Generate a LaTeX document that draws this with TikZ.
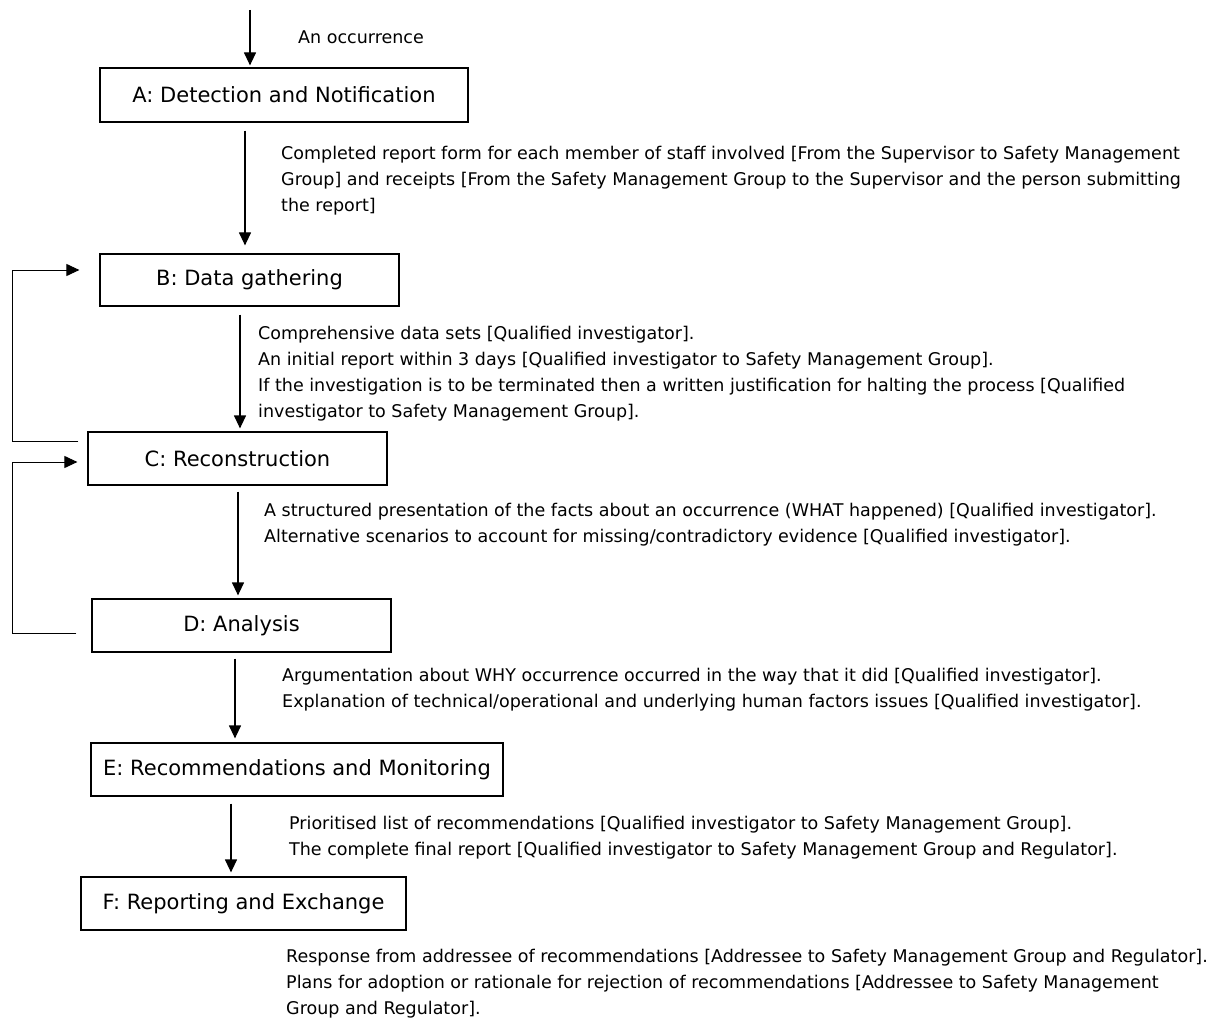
\documentclass[tikz,border=0pt]{standalone}
\usepackage{fontspec}
\setmainfont{DejaVu Sans}
\usetikzlibrary{arrows.meta,calc}
\begin{document}
\begin{tikzpicture}[x=1pt,y=-1pt,
  stage/.style={draw,line width=1.2pt,inner sep=0pt,font=\fontsize{21}{25}\selectfont},
  arr/.style={line width=1.2pt,-{Triangle[length=13pt,width=12pt]}},
  fb/.style={line width=1pt,-{Triangle[length=13pt,width=12pt]}},
  note/.style={anchor=north west,inner sep=0pt,align=left,font=\fontsize{17.5}{26}\selectfont}]
\useasboundingbox (0,0) rectangle (1218,1019);

% stages
\node[stage,minimum width=368pt,minimum height=54pt] (A) at (284,95) {A: Detection and Notification};
\node[stage,minimum width=299pt,minimum height=52pt] (B) at (249.5,280) {B: Data gathering};
\node[stage,minimum width=299pt,minimum height=53pt] (C) at (237.5,458.5) {C: Reconstruction};
\node[stage,minimum width=299pt,minimum height=53pt] (D) at (241.5,625.5) {D: Analysis};
\node[stage,minimum width=412pt,minimum height=53pt] (E) at (297,769.5) {E: Recommendations and Monitoring};
\node[stage,minimum width=325pt,minimum height=53pt] (F) at (243.5,903.5) {F: Reporting and Exchange};

% entry
\coordinate (start) at (250,10);
\draw[arr] (start) -- ([yshift=2pt]A.north -| start);
\node[anchor=west,inner sep=0pt,font=\fontsize{17.5}{20}\selectfont] (occ) at (298,37) {An occurrence};

% forward flow
\coordinate (xab) at (245,0);
\coordinate (xbc) at (240,0);
\coordinate (xcd) at (238,0);
\coordinate (xde) at (235,0);
\coordinate (xef) at (231,0);
\draw[arr] ([yshift=-8pt]A.south -| xab) -- ([yshift=8pt]B.north -| xab);
\draw[arr] ([yshift=-8pt]B.south -| xbc) -- ([yshift=3pt]C.north -| xbc);
\draw[arr] ([yshift=-6pt]C.south -| xcd) -- ([yshift=3pt]D.north -| xcd);
\draw[arr] ([yshift=-6pt]D.south -| xde) -- ([yshift=4pt]E.north -| xde);
\draw[arr] ([yshift=-7pt]E.south -| xef) -- ([yshift=4pt]F.north -| xef);

% feedback loops
\coordinate (lx) at (12,0);
\coordinate (cOut) at ([xshift=-9pt,yshift=17.5pt]C.west);
\coordinate (bIn) at ([xshift=-20pt,yshift=10pt]B.west);
\coordinate (dOut) at ([xshift=-15pt,yshift=-7.5pt]D.west);
\coordinate (cIn) at ([xshift=-10pt,yshift=-3.5pt]C.west);
\draw[fb] (cOut) -- (lx |- cOut) -- (lx |- bIn) -- (bIn);
\draw[fb] (dOut) -- (lx |- dOut) -- (lx |- cIn) -- (cIn);

% products of each stage
\node[note] (nab) at (281,146.5) {Completed report form for each member of staff involved [From the Supervisor to Safety Management\\Group] and receipts [From the Safety Management Group to the Supervisor and the person submitting\\the report]};
\node[note] (nbc) at (258,326) {Comprehensive data sets [Qualified investigator].\\An initial report within 3 days [Qualified investigator to Safety Management Group].\\If the investigation is to be terminated then a written justification for halting the process [Qualified\\investigator to Safety Management Group].};
\node[note] (ncd) at (264,503) {A structured presentation of the facts about an occurrence (WHAT happened) [Qualified investigator].\\Alternative scenarios to account for missing/contradictory evidence [Qualified investigator].};
\node[note] (nde) at (282,668) {Argumentation about WHY occurrence occurred in the way that it did [Qualified investigator].\\Explanation of technical/operational and underlying human factors issues [Qualified investigator].};
\node[note] (nef) at (289,816) {Prioritised list of recommendations [Qualified investigator to Safety Management Group].\\The complete final report [Qualified investigator to Safety Management Group and Regulator].};
\node[note] (nf) at (286,949) {Response from addressee of recommendations [Addressee to Safety Management Group and Regulator].\\Plans for adoption or rationale for rejection of recommendations [Addressee to Safety Management\\Group and Regulator].};
\end{tikzpicture}
\end{document}
